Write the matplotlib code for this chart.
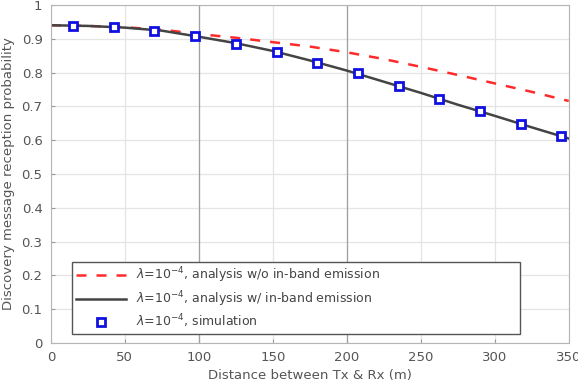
import matplotlib
matplotlib.use('Agg')
import matplotlib.pyplot as plt
import numpy as np

# analysis curves
x_ana = [0, 25, 50, 75, 100, 125, 150, 175, 200, 225, 250, 275, 300, 325, 350]
y_no_ibe = [0.940, 0.938, 0.934, 0.927, 0.914, 0.903, 0.890, 0.877, 0.860,
            0.840, 0.817, 0.793, 0.768, 0.743, 0.716]
y_ibe = [0.940, 0.938, 0.933, 0.924, 0.906, 0.887, 0.864, 0.836, 0.806,
         0.773, 0.740, 0.705, 0.672, 0.638, 0.605]

# simulation points
x_sim = [15, 42.5, 70, 97.5, 125, 152.5, 180, 207.5, 235, 262.5, 290, 317.5, 345]
y_sim = [0.937, 0.934, 0.924, 0.907, 0.886, 0.861, 0.829, 0.798, 0.761,
         0.722, 0.687, 0.649, 0.611]

x_ticks = [0, 50, 100, 150, 200, 250, 300, 350]
y_ticks = [0, 0.1, 0.2, 0.3, 0.4, 0.5, 0.6, 0.7, 0.8, 0.9, 1]
y_ticklabels = ['0', '0.1', '0.2', '0.3', '0.4', '0.5', '0.6', '0.7', '0.8', '0.9', '1']

labels = [r'$\lambda$=10$^{-4}$, analysis w/o in-band emission',
          r'$\lambda$=10$^{-4}$, analysis w/ in-band emission',
          r'$\lambda$=10$^{-4}$, simulation']

txt = '#555555'

fig = plt.figure(figsize=(5.78, 3.82), dpi=100)
ax = fig.add_axes([0.088, 0.102, 0.896, 0.885])

ax.set_xlim(0, 350)
ax.set_ylim(0, 1)
ax.set_xticks(x_ticks)
ax.set_yticks(y_ticks)
ax.set_yticklabels(y_ticklabels)
ax.grid(True, color='#e4e4e4', linewidth=0.9)
ax.set_axisbelow(True)
for xv in [100, 200]:
    ax.axvline(xv, color='#a0a0a0', linewidth=0.9, zorder=1)

ax.plot(x_ana, y_no_ibe, color='#ff2a2a', linewidth=1.8, dashes=(4, 4), label=labels[0],
        zorder=2)
ax.plot(x_ana, y_ibe, color='#444444', linewidth=1.8, label=labels[1], zorder=2)
ax.plot(x_sim, y_sim, linestyle='none', marker='s', markersize=5.5,
        markerfacecolor='white', markeredgecolor='#1010e0', markeredgewidth=2,
        label=labels[2], zorder=3)

for sp in ax.spines.values():
    sp.set_color('#b5b5b5')
ax.tick_params(direction='in', colors='#999999', labelcolor=txt, labelsize=9.5,
               length=3, pad=6)

ax.set_xlabel('Distance between Tx & Rx (m)', color=txt, fontsize=9.5, labelpad=3)
ax.set_ylabel('Discovery message reception probability', color=txt, fontsize=9.5,
              labelpad=5)

leg = ax.legend(loc='lower left', bbox_to_anchor=(0.041, 0.027, 0.865, 0.207),
                mode='expand', fontsize=9, handlelength=4, fancybox=False,
                framealpha=1, edgecolor='#555555', borderpad=0.3, labelspacing=0.3,
                borderaxespad=0)
for t in leg.get_texts():
    t.set_color('#444444')
leg.get_frame().set_linewidth(1.0)

fig.savefig('out.png', dpi=100)
